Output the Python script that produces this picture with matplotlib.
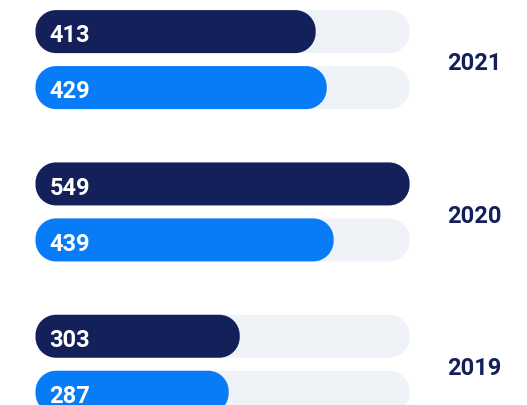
import matplotlib
matplotlib.use("Agg")
import matplotlib.pyplot as plt
from matplotlib.path import Path
from matplotlib.patches import PathPatch
import matplotlib.transforms as mtransforms

plt.rcParams['font.family'] = ['Roboto', 'DejaVu Sans']

years = ['2021', '2020', '2019']
series_a = [413, 549, 303]   # dark bars
series_b = [429, 439, 287]   # blue bars
track_max = 549

NAVY = '#13205a'
BLUE = '#087bf6'
TRACK = '#eff3f8'

W, H = 527, 406
fig = plt.figure(figsize=(W / 100, H / 100), dpi=100)
ax = fig.add_axes([0, 0, 1, 1])
ax.axis('off')

# pixel geometry
zero_px = 30.5
sx = 0.6905          # px per value unit
row_px = 56.0        # px per y unit
ax.set_xlim(-zero_px / sx, (W - zero_px) / sx)
ax.set_ylim((H - 60.6) / row_px, -60.6 / row_px)

group_gap = 2.72
bar_h = 43 / row_px
left = 5.0 / sx
rx = 20.5 / sx
ry = 20.5 / row_px
K = 0.5523


def pill(x_end, yc, color, z):
    x0, x1 = left, x_end
    y0, y1 = yc - bar_h / 2, yc + bar_h / 2
    verts = [
        (x0 + rx, y0), (x1 - rx, y0),
        (x1 - rx + K * rx, y0), (x1, y0 + ry - K * ry), (x1, y0 + ry),
        (x1, y1 - ry),
        (x1, y1 - ry + K * ry), (x1 - rx + K * rx, y1), (x1 - rx, y1),
        (x0 + rx, y1),
        (x0 + rx - K * rx, y1), (x0, y1 - ry + K * ry), (x0, y1 - ry),
        (x0, y0 + ry),
        (x0, y0 + ry - K * ry), (x0 + rx - K * rx, y0), (x0 + rx, y0),
        (x0 + rx, y0),
    ]
    codes = ([Path.MOVETO, Path.LINETO] + [Path.CURVE4] * 3 + [Path.LINETO]
             + [Path.CURVE4] * 3 + [Path.LINETO] + [Path.CURVE4] * 3
             + [Path.LINETO] + [Path.CURVE4] * 3 + [Path.CLOSEPOLY])
    ax.add_patch(PathPatch(Path(verts, codes), fc=color, ec='none', zorder=z))


trans = mtransforms.blended_transform_factory(fig.transFigure, ax.transData)
for g, yr in enumerate(years):
    yc = g * group_gap
    for val, off, col in ((series_a[g], -0.5, NAVY), (series_b[g], 0.5, BLUE)):
        pill(track_max, yc + off, TRACK, 1)
        pill(val, yc + off, col, 2)
        ax.annotate(str(val), (0, yc + off), xytext=(13.6, -7.0),
                    textcoords='offset points', ha='left', va='baseline',
                    color='white', fontsize=17, fontweight='bold', zorder=3)
    ax.annotate(yr, (447 / W, yc), xycoords=trans, xytext=(0, -6.9),
                textcoords='offset points', ha='left', va='baseline',
                color=NAVY, fontsize=17, fontweight='bold')

fig.savefig('out.png', dpi=100)
